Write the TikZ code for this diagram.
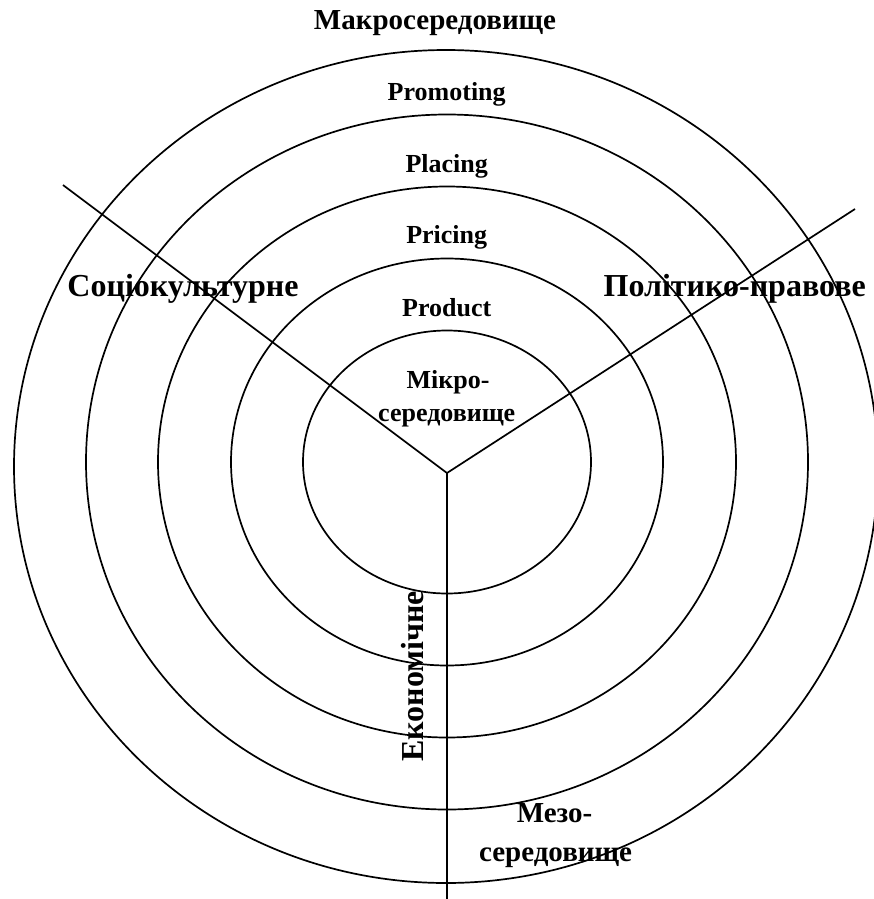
\documentclass[tikz,border=0pt]{standalone}
\usepackage{fontspec}
\setmainfont{Liberation Serif}
\begin{document}
\begin{tikzpicture}[x=1pt,y=-1pt,
  ring/.style={line width=1.7pt},
  divider/.style={line width=1.7pt},
  lbl/.style={font=\bfseries\fontsize{26}{30}\selectfont, anchor=base, inner sep=0pt},
  macrolbl/.style={font=\bfseries\fontsize{29}{32}\selectfont, anchor=base, inner sep=0pt},
  biglbl/.style={font=\bfseries\fontsize{32}{36}\selectfont, anchor=base, inner sep=0pt},
  mezolbl/.style={font=\bfseries\fontsize{29}{32}\selectfont, anchor=base, inner sep=0pt}]
\useasboundingbox (0,0) rectangle (874,899);
% rings
\draw[ring] (447,462) ellipse [x radius=144, y radius=131.5];
\draw[ring] (447,462) ellipse [x radius=216, y radius=203.5];
\draw[ring] (447,462) ellipse [x radius=289, y radius=275.5];
\draw[ring] (447,462) ellipse [x radius=361, y radius=347.5];
\draw[ring] (446,466.5) ellipse [x radius=432, y radius=416.5];
% dividers
\coordinate (J) at (447,473);
\coordinate (L) at (63,185);
\coordinate (R) at (855,209);
\coordinate (B) at (447,899);
\draw[divider] (L) -- (J) -- (R);
\draw[divider] (J) -- (B);
% labels
\node[macrolbl] (macro) at (435,30) {Макросередовище};
\node[lbl] (promo) at (446.7,100.7) {Promoting};
\node[lbl] (place) at (446.7,172.7) {Placing};
\node[lbl] (price) at (446.7,243.3) {Pricing};
\node[lbl] (prod) at (446.7,316) {Product};
\node[lbl] (micro1) at (448,388.3) {Мікро-};
\node[lbl] (micro2) at (446.7,421) {середовище};
\node[biglbl] (socio) at (183,296.7) {Соціокультурне};
\node[biglbl] (polit) at (734.7,296.7) {Політико-правове};
\node[biglbl, rotate=90] (econ) at (423,676.5) {Економічне};
\node[mezolbl] (meso1) at (554.5,822.7) {Мезо-};
\node[mezolbl] (meso2) at (555.5,861.7) {середовище};
\end{tikzpicture}
\end{document}
